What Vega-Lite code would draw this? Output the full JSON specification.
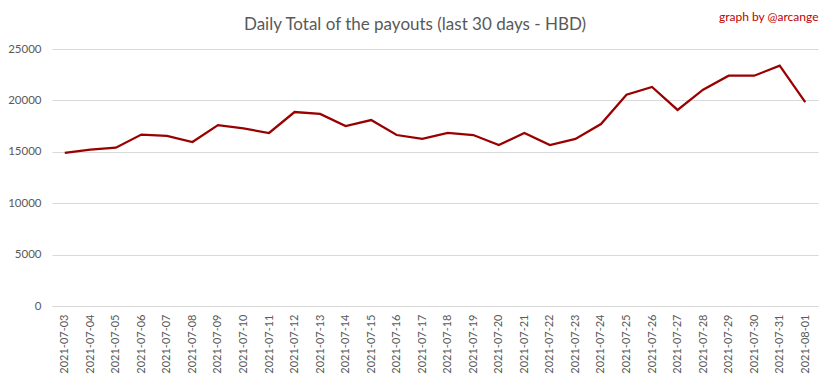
{
  "$schema": "https://vega.github.io/schema/vega-lite/v6.json",
  "autosize": {"type": "none"},
  "width": 766,
  "height": 257,
  "padding": {"left": 52, "top": 49, "right": 15, "bottom": 73},
  "background": "white",
  "title": {
    "text": "Daily Total of the payouts (last 30 days - HBD)",
    "font": "Lato",
    "fontSize": 17,
    "fontWeight": "normal",
    "color": "#595959",
    "anchor": "middle",
    "dx": -20,
    "offset": -24
  },
  "data": {
    "values": [
      {"date": "2021-07-03", "hbd": 14900},
      {"date": "2021-07-04", "hbd": 15200},
      {"date": "2021-07-05", "hbd": 15400},
      {"date": "2021-07-06", "hbd": 16680},
      {"date": "2021-07-07", "hbd": 16540},
      {"date": "2021-07-08", "hbd": 15950},
      {"date": "2021-07-09", "hbd": 17600},
      {"date": "2021-07-10", "hbd": 17270},
      {"date": "2021-07-11", "hbd": 16830},
      {"date": "2021-07-12", "hbd": 18870},
      {"date": "2021-07-13", "hbd": 18680},
      {"date": "2021-07-14", "hbd": 17510},
      {"date": "2021-07-15", "hbd": 18090},
      {"date": "2021-07-16", "hbd": 16630},
      {"date": "2021-07-17", "hbd": 16250},
      {"date": "2021-07-18", "hbd": 16830},
      {"date": "2021-07-19", "hbd": 16630},
      {"date": "2021-07-20", "hbd": 15660},
      {"date": "2021-07-21", "hbd": 16830},
      {"date": "2021-07-22", "hbd": 15660},
      {"date": "2021-07-23", "hbd": 16250},
      {"date": "2021-07-24", "hbd": 17700},
      {"date": "2021-07-25", "hbd": 20560},
      {"date": "2021-07-26", "hbd": 21300},
      {"date": "2021-07-27", "hbd": 19070},
      {"date": "2021-07-28", "hbd": 21040},
      {"date": "2021-07-29", "hbd": 22400},
      {"date": "2021-07-30", "hbd": 22400},
      {"date": "2021-07-31", "hbd": 23380},
      {"date": "2021-08-01", "hbd": 19840}
    ]
  },
  "layer": [
    {
      "mark": {"type": "line", "color": "#990000", "strokeWidth": 2.25},
      "encoding": {
        "x": {
          "field": "date",
          "type": "ordinal",
          "sort": null,
          "scale": {"type": "point", "padding": 0.5},
          "axis": {
            "title": null,
            "labelAngle": -90,
            "labelAlign": "right",
            "labelBaseline": "middle",
            "labelPadding": 8,
            "labelFont": "Lato",
            "labelFontSize": 11,
            "labelColor": "#595959",
            "ticks": false,
            "domainColor": "#d9d9d9",
            "domainWidth": 1,
            "grid": false
          }
        },
        "y": {
          "field": "hbd",
          "type": "quantitative",
          "scale": {"domain": [0, 25000], "nice": false},
          "axis": {
            "title": null,
            "values": [0, 5000, 10000, 15000, 20000, 25000],
            "format": "d",
            "labelFont": "Lato",
            "labelFontSize": 11.5,
            "labelColor": "#595959",
            "labelPadding": 11,
            "ticks": false,
            "domain": false,
            "gridColor": "#d9d9d9",
            "gridWidth": 1
          }
        }
      }
    },
    {
      "mark": {"type": "line", "strokeOpacity": 0},
      "encoding": {
        "x": {
          "field": "date",
          "type": "ordinal",
          "sort": null,
          "axis": {
            "orient": "top",
            "labels": false,
            "ticks": false,
            "domain": false,
            "grid": false,
            "title": "graph by @arcange",
            "titleAnchor": "end",
            "titleFont": "Lato",
            "titleFontSize": 12,
            "titleFontWeight": "normal",
            "titleColor": "#c00000",
            "titlePadding": 26
          }
        },
        "y": {"field": "hbd", "type": "quantitative"}
      }
    }
  ],
  "resolve": {"axis": {"x": "independent", "y": "shared"}},
  "config": {"view": {"stroke": null}}
}
